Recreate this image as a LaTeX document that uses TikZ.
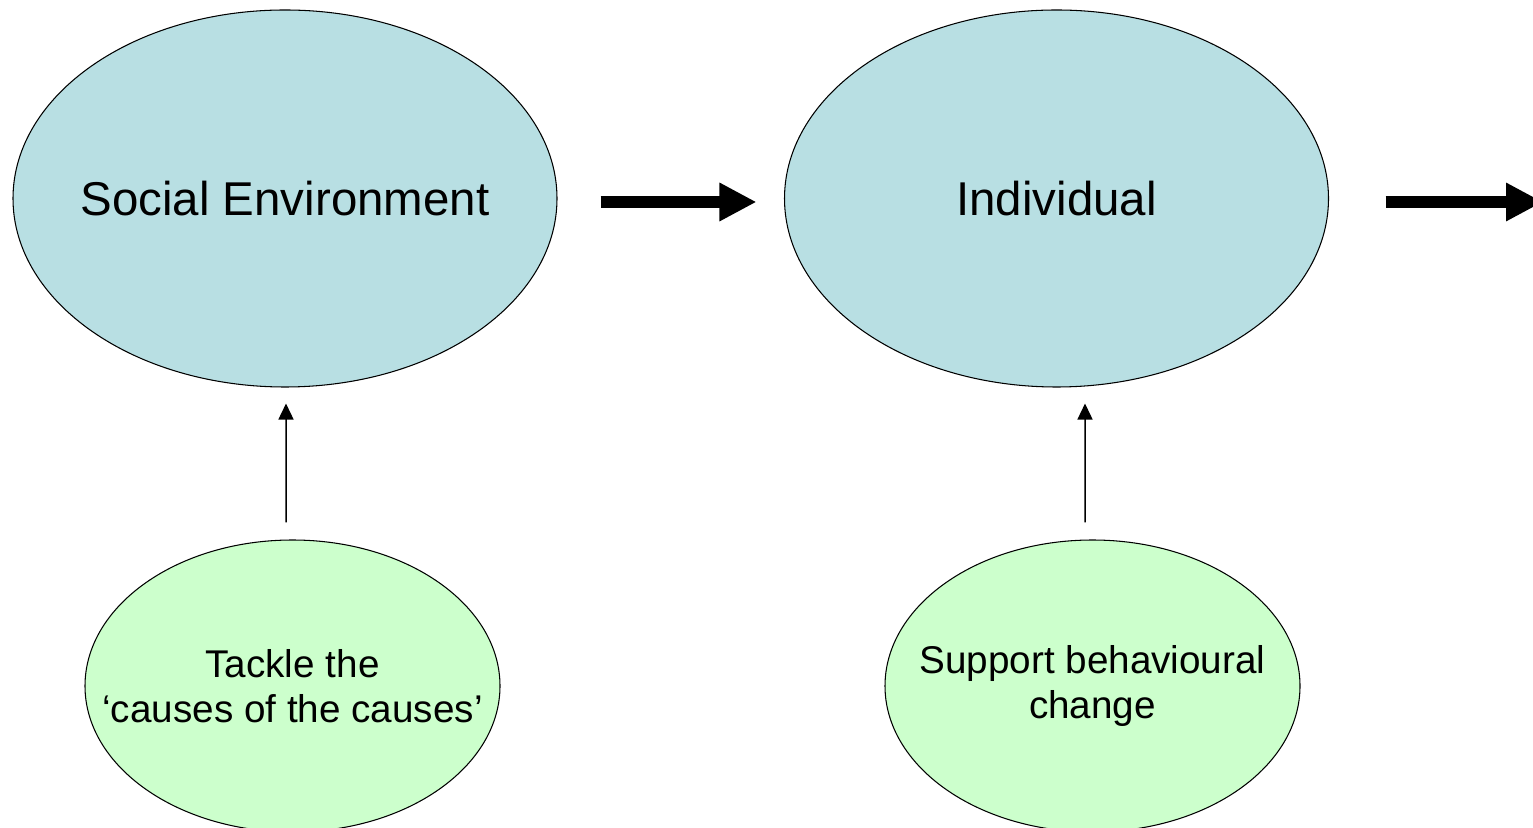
\documentclass[tikz,border=0pt]{standalone}
\usepackage{fontspec}
\setmainfont{Liberation Sans}
\usepackage{tikz}
\usetikzlibrary{shapes.geometric, arrows.meta}
\definecolor{levelblue}{HTML}{B8DFE3}
\definecolor{actiongreen}{HTML}{CCFFCC}

\begin{document}
\begin{tikzpicture}[
        level/.style={ellipse, draw=black, line width=0.6pt, fill=levelblue, inner sep=0pt,
            minimum width=10.88cm, minimum height=7.54cm},
        action/.style={ellipse, draw=black, line width=0.6pt, fill=actiongreen, inner sep=0pt,
            minimum width=8.30cm, minimum height=5.84cm},
        leveltext/.style={font=\fontsize{27}{32}\selectfont},
        actiontext/.style={align=center, font=\fontsize{22}{25.5}\selectfont},
        bigarrow/.style={line width=0.24cm, -{Triangle[length=0.74cm, width=0.72cm]}},
        thinarrow/.style={line width=0.85pt, -{Triangle[length=0.32cm, width=0.30cm]}}
    ]
            \useasboundingbox (0, 0) rectangle (30.66, 16.54);

            % ellipses first, their texts as centred labels
            \node[level, label={[leveltext]center:Social Environment}] (se) at (5.70, 12.57) {};
            \node[level, label={[leveltext]center:Individual}] (ind) at (21.13, 12.57) {};
            \node[action, label={[actiontext]center:Tackle the\\`causes of the causes'}] (tk) at (5.85, 2.82) {};
            \node[action, label={[actiontext]center:Support behavioural\\change}] (sup) at (21.85, 2.82) {};
            \coordinate (out) at (30.86, 12.50);

            \draw[bigarrow, shorten <=0.86cm, shorten >=0.55cm] ([yshift=-0.07cm]se.east) -- ([yshift=-0.07cm]ind.west);
            \draw[bigarrow, shorten <=1.13cm] ([yshift=-0.07cm]ind.east) -- (out);
            \draw[thinarrow] ([shift={(-0.13, 0.34)}]tk.north) -- ([shift={(0.02, -0.32)}]se.south);
            \draw[thinarrow] ([shift={(-0.15, 0.34)}]sup.north) -- ([shift={(0.57, -0.32)}]ind.south);
        \end{tikzpicture}
\end{document}
